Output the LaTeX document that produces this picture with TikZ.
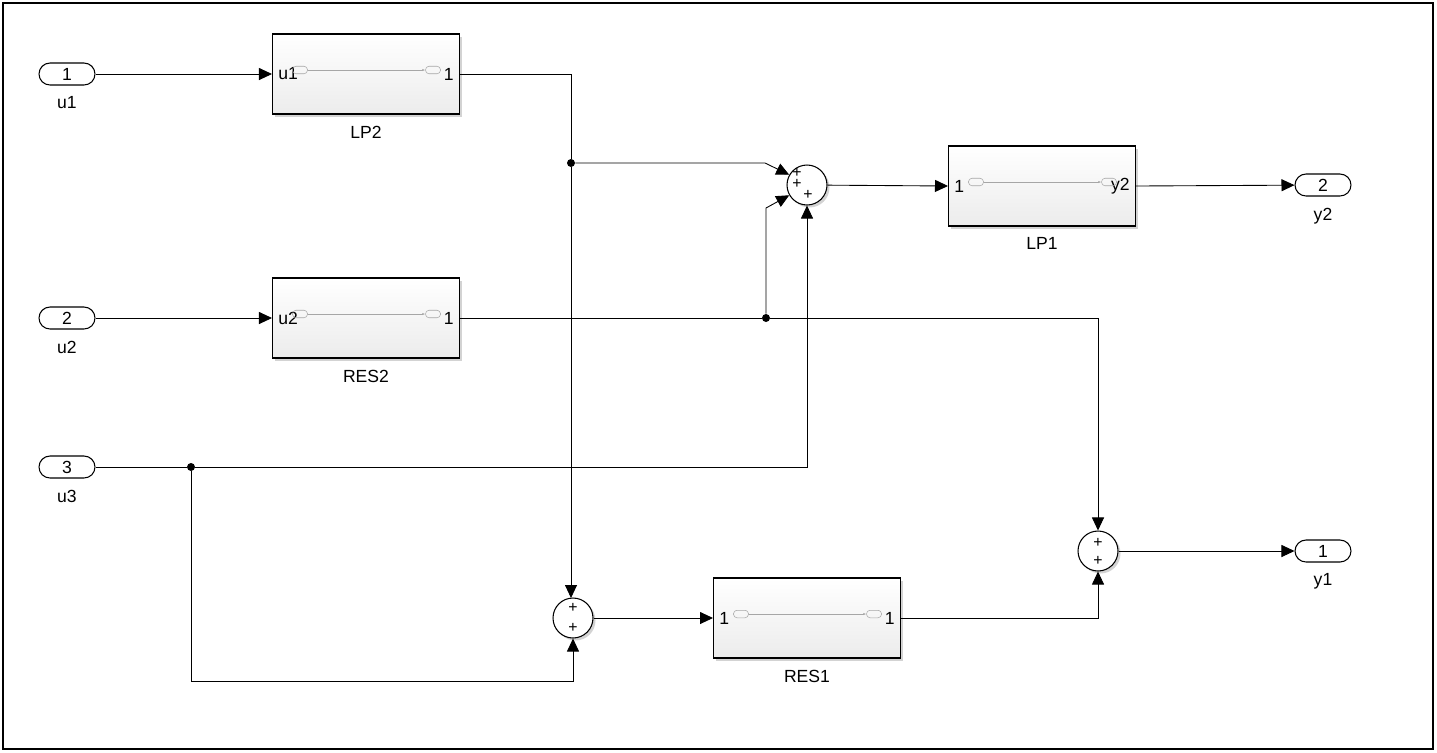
\documentclass[tikz,border=0pt]{standalone}
\usepackage{fontspec}
\setmainfont{Liberation Sans}
\usetikzlibrary{positioning,arrows.meta,shadows,calc}

\tikzset{
  sig/.style={-{Triangle[length=0.26cm,width=0.24cm]}, line width=0.5pt},
  port/.style={draw, rounded corners=0.22cm, minimum width=1.12cm, minimum height=0.44cm, inner sep=0pt, fill=white, line width=0.6pt},
  blk/.style={draw, minimum width=3.74cm, minimum height=1.6cm, inner sep=0pt, top color=white, bottom color=gray!15, drop shadow={opacity=0.35,shadow xshift=0.05cm,shadow yshift=-0.05cm}, line width=0.6pt},
  sum/.style={draw, circle, minimum size=0.8cm, inner sep=0pt, fill=white, drop shadow={opacity=0.35,shadow xshift=0.05cm,shadow yshift=-0.05cm}, line width=0.6pt},
  sgn/.style={inner sep=0pt, font=\fontsize{9}{9}\selectfont},
  dot/.style={circle, fill, inner sep=0pt, minimum size=0.16cm},
  pill/.style={draw=gray!70, rounded corners=0.07cm, minimum width=0.3cm, minimum height=0.15cm, inner sep=0pt, line width=0.3pt},
}
\newcommand{\inner}[3]{%
  \node[anchor=west, inner sep=0pt] at ($(#1.west)+(6,0)$) {#2};
  \node[anchor=east, inner sep=0pt] at ($(#1.east)+(-6,0)$) {#3};
  \node[pill] (#1pa) at ($(#1.west)+(28,-4)$) {};
  \node[pill] (#1pb) at ($(#1.east)+(-27,-4)$) {};
  \draw[gray!70, line width=0.3pt, -{Latex[length=0.06cm]}] (#1pa) -- (#1pb);
}

\begin{document}
\begin{tikzpicture}[x=0.02cm, y=-0.02cm, font=\fontsize{10}{12}\selectfont]
  \useasboundingbox (0,0) rectangle (1437,752);
  \draw[line width=1.2pt] (3,3) rectangle (1433,749);

  % inports and outports
  \node[port] (u1) at (67,74) {1};
  \node[below=0.1cm of u1] {u1};
  \node[port] (u2) at (67,318) {2};
  \node[below=0.1cm of u2] {u2};
  \node[port] (u3) at (67,467) {3};
  \node[below=0.1cm of u3] {u3};
  \node[port] (y2) at (1323,185) {2};
  \node[below=0.1cm of y2] {y2};
  \node[port] (y1) at (1323,551) {1};
  \node[below=0.1cm of y1] {y1};

  % subsystems
  \node[blk] (lp2) at (366,74) {};
  \node[below=0.1cm of lp2] {LP2};
  \inner{lp2}{u1}{1}
  \node[blk] (res2) at (366,318) {};
  \node[below=0.1cm of res2] {RES2};
  \inner{res2}{u2}{1}
  \node[blk] (lp1) at (1042,186) {};
  \node[below=0.1cm of lp1] {LP1};
  \inner{lp1}{1}{y2}
  \node[blk] (res1) at (807,618) {};
  \node[below=0.1cm of res1] {RES1};
  \inner{res1}{1}{1}

  % sums
  \node[sgn] (s3) at (807,185) [sum] {};
  \node[sgn] at (797,173) {+};
  \node[sgn] at (797,184) {+};
  \node[sgn] at (808,195) {+};
  \node[sum] (s2) at (1098,551) {};
  \node[sgn] at (1098,543) {+};
  \node[sgn] at (1098,561) {+};
  \node[sum] (s1) at (573,618) {};
  \node[sgn] at (573,608) {+};
  \node[sgn] at (573,628) {+};

  % junctions
  \node[dot] (j1) at (571,163) {};
  \node[dot] (j2) at (766,318) {};
  \node[dot] (j3) at (191,467) {};

  % connectors
  \draw[sig] (u1) -- (lp2.west);
  \draw[sig] (u2) -- (res2.west);
  \draw (u3) -- (j3);
  \draw (lp2.east) -| (j1);
  \draw[sig] (j1) -- (571,598);
  \draw[sig] (j1) -- (765,163) -- (s3.150);
  \draw (res2.east) -- (j2);
  \draw[sig] (j2) -- (766,208) -- (s3.210);
  \draw[sig] (j2) -| (s2.north);
  \draw[sig] (j3) -| (s3.south);
  \draw[sig] (j3) |- (573,681) -- (s1.south);
  \draw[sig] (s1) -- (res1.west);
  \draw[sig] (res1.east) -| (s2.south);
  \draw[sig] (s3) -- (lp1.west);
  \draw[sig] (lp1.east) -- (y2);
  \draw[sig] (s2) -- (y1);
\end{tikzpicture}
\end{document}
